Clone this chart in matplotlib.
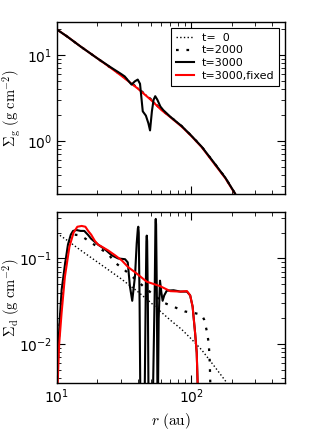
import matplotlib
matplotlib.use("Agg")
import matplotlib.pyplot as plt
from matplotlib.ticker import LogLocator, NullFormatter

plt.rcParams["axes.unicode_minus"] = False

# ---------------- data ----------------
# gas surface density (g cm^-2)
r_gas = [10, 12, 15, 20, 25, 30, 40, 50, 60, 70, 85, 100, 120, 150, 180, 210, 250]
sig_gas_t0 = [19.7, 16.2, 12.5, 9.1, 7.1, 5.8, 4.1, 3.05, 2.3, 1.9, 1.48, 1.15, 0.85, 0.54, 0.37, 0.25, 0.155]
sig_gas_t2000 = [19.7, 16.2, 12.5, 9.1, 7.1, 5.85, 4.1, 3.05, 2.3, 1.9, 1.48, 1.15, 0.85, 0.54, 0.37, 0.25, 0.155]
sig_gas_fixed = [19.7, 16.2, 12.5, 9.1, 7.1, 5.75, 4.05, 3.0, 2.28, 1.88, 1.46, 1.14, 0.84, 0.53, 0.365, 0.248, 0.153]

r_gas3 = [10, 12, 15, 20, 25, 30, 32, 34, 36, 38, 40, 41.6, 43.6, 46, 48, 49.4, 51, 52.5, 54,
          56, 59, 62, 70, 85, 100, 120, 150, 180, 210, 250]
sig_gas_t3000 = [19.7, 16.2, 12.5, 9.1, 7.2, 6.0, 5.6, 5.0, 4.5, 4.9, 5.15, 4.6, 2.2, 1.96, 1.6, 1.32,
                 2.2, 3.0, 3.3, 3.0, 2.5, 2.27, 1.9, 1.48, 1.15, 0.85, 0.54, 0.37, 0.25, 0.155]

# dust surface density (g cm^-2)
r_d0 = [10, 12, 15, 20, 25, 30, 40, 50, 60, 70, 85, 100, 120, 150, 180, 210, 250]
sig_d_t0 = [0.197, 0.162, 0.125, 0.091, 0.071, 0.058, 0.041, 0.0305, 0.0235, 0.019, 0.0148,
            0.0115, 0.0085, 0.0054, 0.0037, 0.0025, 0.00155]

r_d2000 = [10, 10.5, 11.5, 12.5, 13.5, 15, 17.1, 20.3, 24.1, 27, 32, 38, 44.2, 52, 62.2, 75, 90,
           107, 120, 125, 131, 135, 137, 138, 140]
sig_d_t2000 = [0.003, 0.018, 0.08, 0.16, 0.19, 0.186, 0.162, 0.135, 0.113, 0.09, 0.073, 0.058,
               0.047, 0.038, 0.0305, 0.027, 0.024, 0.0229, 0.022, 0.0192, 0.014, 0.0103, 0.0072,
               0.005, 0.002]

r_d3000 = [10.0, 10.2, 10.5, 10.85, 11.5, 12.1, 12.7, 13.2, 14, 15, 16, 17.1, 18, 19.2, 20.3,
           22.8, 25.6, 28.6, 32.2, 33.7, 35, 36.4, 38.2, 39.3, 40.1, 40.4, 40.7, 41.3, 42.0,
           44.8, 45.8, 46.4, 46.7, 47.0, 47.6, 48.3, 51.4, 53.5, 54.2, 54.5, 54.8, 55.5, 56.3,
           57.3, 58.6, 60, 61.3, 63, 65.8, 73.9, 83, 93, 98.3, 102.5, 107, 110, 112]
sig_d_t3000 = [0.003, 0.008, 0.019, 0.043, 0.086, 0.146, 0.19, 0.21, 0.215, 0.21, 0.21, 0.188,
               0.17, 0.156, 0.145, 0.128, 0.109, 0.1, 0.098, 0.09, 0.047, 0.032, 0.063, 0.15,
               0.225, 0.235, 0.2, 0.03, 0.001, 0.001, 0.03, 0.16, 0.185, 0.16, 0.03, 0.001,
               0.001, 0.04, 0.26, 0.29, 0.25, 0.04, 0.001, 0.02, 0.055, 0.04, 0.032, 0.037,
               0.042, 0.0425, 0.041, 0.041, 0.037, 0.0274, 0.0134, 0.0079, 0.003]

r_dfix = [10.1, 10.4, 10.84, 11.47, 12.4, 13.3, 14.2, 15.3, 16.3, 17.1, 18, 19.2, 20.3, 21.5,
          24.1, 27.1, 30.4, 34, 38.2, 46.7, 58.6, 69.9, 83, 93, 98.3, 102.5, 107, 110, 112]
sig_d_fixed = [0.003, 0.01, 0.023, 0.061, 0.137, 0.2, 0.235, 0.24, 0.235, 0.21, 0.19, 0.16,
               0.145, 0.138, 0.124, 0.109, 0.095, 0.079, 0.069, 0.0535, 0.0475, 0.0415, 0.041,
               0.0415, 0.037, 0.0274, 0.0134, 0.0079, 0.003]

labels = ["t=  0", "t=2000", "t=3000", "t=3000,fixed"]
xlim = (10, 500)
ylim_gas = (0.24, 24)
ylim_dust = (0.0035, 0.35)

# ---------------- figure ----------------
fig = plt.figure(figsize=(3.16, 4.42), dpi=100)
ax1 = fig.add_axes([0.180, 0.561, 0.722, 0.389])
ax2 = fig.add_axes([0.180, 0.1335, 0.722, 0.387])

st0 = dict(color="black", lw=1.0, ls=":")
st2 = dict(color="black", lw=1.6, ls=(0, (1.2, 3.5)))
st3 = dict(color="black", lw=1.5, ls="-")
stf = dict(color="red", lw=1.5, ls="-")

ax1.plot(r_gas, sig_gas_t0, label=labels[0], **st0)
ax1.plot(r_gas, sig_gas_t2000, label=labels[1], **st2)
ax1.plot(r_gas, sig_gas_fixed, label=labels[3], **stf)
ax1.plot(r_gas3, sig_gas_t3000, label=labels[2], **st3)

ax2.plot(r_d0, sig_d_t0, **st0)
ax2.plot(r_d2000, sig_d_t2000, **st2)
ax2.plot(r_d3000, sig_d_t3000, **st3)
ax2.plot(r_dfix, sig_d_fixed, **stf)

h, l = ax1.get_legend_handles_labels()
hd = dict(zip(l, h))
leg = ax1.legend([hd[x] for x in labels], labels, loc="upper right", fontsize=8,
                 fancybox=False, edgecolor="black", framealpha=1,
                 handlelength=1.6, handletextpad=0.7, borderpad=0.45,
                 borderaxespad=0.5, labelspacing=0.25)
leg.get_frame().set_linewidth(0.8)

for ax, yl in ((ax1, ylim_gas), (ax2, ylim_dust)):
    ax.set_xscale("log")
    ax.set_yscale("log")
    ax.set_xlim(*xlim)
    ax.set_ylim(*yl)
    ax.tick_params(which="both", direction="in", top=True, right=True, labelsize=10)
    ax.tick_params(which="major", length=6, width=0.8)
    ax.tick_params(which="minor", length=3, width=0.6)
    ax.xaxis.set_minor_locator(LogLocator(base=10, subs=range(2, 10), numticks=20))
    ax.yaxis.set_minor_locator(LogLocator(base=10, subs=range(2, 10), numticks=20))
    ax.xaxis.set_minor_formatter(NullFormatter())
    ax.yaxis.set_minor_formatter(NullFormatter())
    for s in ax.spines.values():
        s.set_linewidth(1.0)

ax1.tick_params(labelbottom=False)

ax1.set_ylabel(r"$\Sigma_{\rm g}\ (\rm g\ cm^{-2})$", fontsize=10.5, math_fontfamily="cm")
ax2.set_ylabel(r"$\Sigma_{\rm d}\ (\rm g\ cm^{-2})$", fontsize=10.5, math_fontfamily="cm")
ax1.yaxis.set_label_coords(-0.15, 0.5)
ax2.yaxis.set_label_coords(-0.15, 0.5)
ax2.set_xlabel(r"$r\ (\rm au)$", fontsize=11, math_fontfamily="cm", labelpad=3)

fig.savefig("out.png", dpi=100)
